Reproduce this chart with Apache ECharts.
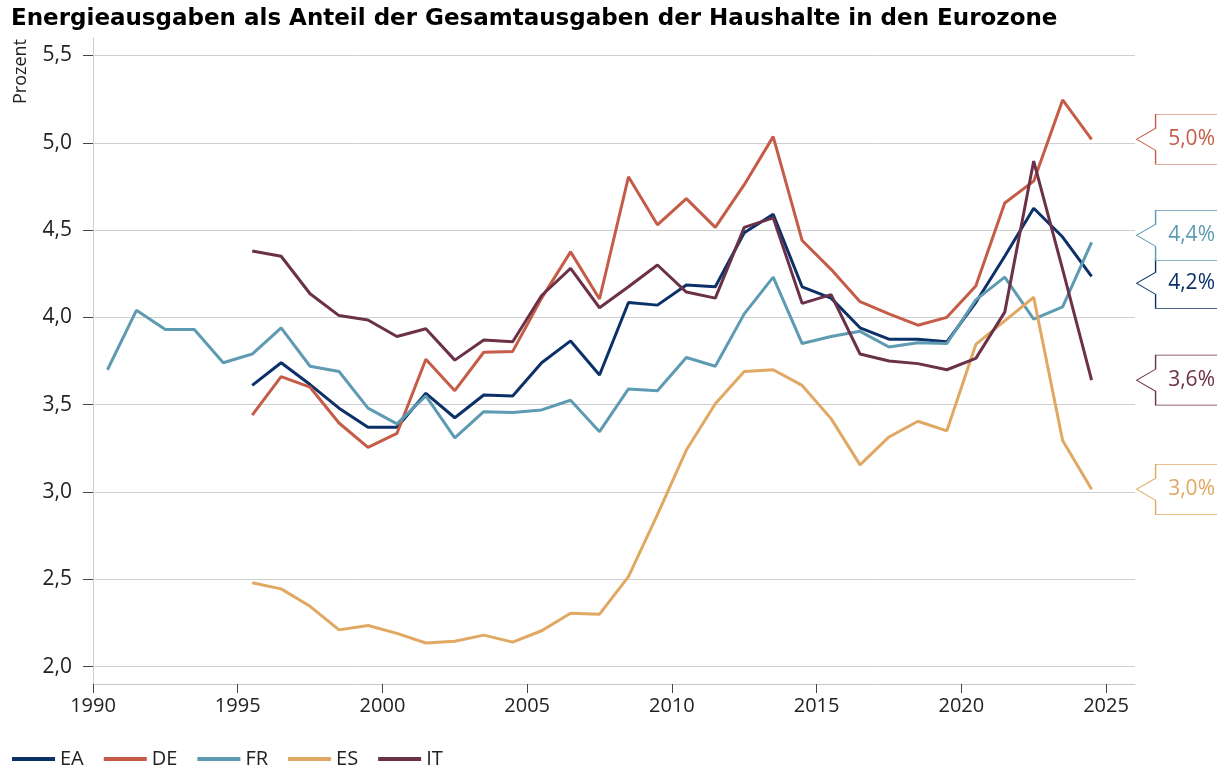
<!DOCTYPE html>
<html>
<head>
<meta charset="utf-8">
<script src="https://cdn.jsdelivr.net/npm/echarts@6/dist/echarts.min.js"></script>
<style>
  html, body { margin: 0; padding: 0; background: #fff; }
  #chart { width: 1217px; height: 771px; }
</style>
</head>
<body>
<div id="chart"></div>
<script>
// Jahreswerte 1990-2024 (null = keine Daten), in Prozent
const years = [1990, 1991, 1992, 1993, 1994, 1995, 1996, 1997, 1998, 1999,
  2000, 2001, 2002, 2003, 2004, 2005, 2006, 2007, 2008, 2009,
  2010, 2011, 2012, 2013, 2014, 2015, 2016, 2017, 2018, 2019,
  2020, 2021, 2022, 2023, 2024];

const EA = [null, null, null, null, null,
  3.61, 3.74, 3.615, 3.48, 3.37, 3.37, 3.565, 3.425, 3.555, 3.55,
  3.74, 3.865, 3.67, 4.085, 4.07, 4.185, 4.175, 4.485, 4.59, 4.175,
  4.11, 3.94, 3.875, 3.875, 3.86, 4.085, 4.35, 4.625, 4.46, 4.235];
const DE = [null, null, null, null, null,
  3.44, 3.66, 3.60, 3.395, 3.255, 3.335, 3.76, 3.58, 3.80, 3.805,
  4.11, 4.375, 4.105, 4.805, 4.53, 4.68, 4.515, 4.76, 5.035, 4.44,
  4.275, 4.09, 4.02, 3.955, 4.00, 4.18, 4.655, 4.78, 5.245, 5.02];
const FR = [3.70, 4.04, 3.93, 3.93, 3.74,
  3.79, 3.94, 3.72, 3.69, 3.48, 3.39, 3.55, 3.31, 3.46, 3.455,
  3.47, 3.525, 3.345, 3.59, 3.58, 3.77, 3.72, 4.02, 4.23, 3.85,
  3.89, 3.92, 3.83, 3.855, 3.85, 4.10, 4.23, 3.99, 4.06, 4.43];
const ES = [null, null, null, null, null,
  2.48, 2.445, 2.345, 2.21, 2.235, 2.19, 2.135, 2.145, 2.18, 2.14,
  2.205, 2.305, 2.30, 2.515, 2.87, 3.24, 3.505, 3.69, 3.70, 3.61,
  3.42, 3.155, 3.315, 3.405, 3.35, 3.845, 3.98, 4.115, 3.295, 3.015];
const IT = [null, null, null, null, null,
  4.38, 4.35, 4.135, 4.01, 3.985, 3.89, 3.935, 3.755, 3.87, 3.86,
  4.125, 4.28, 4.055, 4.175, 4.30, 4.145, 4.11, 4.515, 4.57, 4.08,
  4.13, 3.79, 3.75, 3.735, 3.70, 3.765, 4.03, 4.895, 4.275, 3.64];

const yTicks = [2.0, 2.5, 3.0, 3.5, 4.0, 4.5, 5.0, 5.5];
const xTicks = [1990, 1995, 2000, 2005, 2010, 2015, 2020, 2025];

const FONT = "'Open Sans', 'Noto Sans', sans-serif";

// callout box with notch pointing left
const calloutPath = "path://M0,25 L19,14 L19,0 L100,0 L100,50 L19,50 L19,36 Z";

function fmt(v) {
  return v.toFixed(1).replace(".", ",");
}

function makeSeries(name, values, color, labelShift) {
  var data = [];
  for (var i = 0; i < years.length; i++) {
    data.push([years[i] + 0.5, values[i]]); // Jahreswerte zur Jahresmitte
  }
  var last = values[values.length - 1];
  return {
    name: name,
    type: "line",
    data: data,
    showSymbol: false,
    symbol: "none",
    lineStyle: { width: 3, color: color },
    itemStyle: { color: color },
    emphasis: { disabled: true },
    markPoint: {
      symbol: calloutPath,
      symbolSize: [100, 50],
      symbolKeepAspect: false,
      symbolOffset: [95, labelShift],
      silent: true,
      itemStyle: { color: "#fff", borderColor: color, borderWidth: 1 },
      label: {
        show: true,
        position: "inside",
        offset: [5, 0],
        color: color,
        fontFamily: FONT,
        fontSize: 21,
        formatter: function (p) { return fmt(p.value) + "%"; }
      },
      data: [{ coord: [years[years.length - 1] + 0.5, last], value: last }]
    }
  };
}

var chart = echarts.init(document.getElementById("chart"), null, { renderer: "canvas" });

var option = {
  animation: false,
  backgroundColor: "#fff",
  title: {
    text: "Energieausgaben als Anteil der Gesamtausgaben der Haushalte in den Eurozone",
    left: 6,
    top: 3,
    textStyle: { fontFamily: "'DejaVu Sans', sans-serif", fontWeight: "bold", fontSize: 23, color: "#000" }
  },
  graphic: [{
    type: "text",
    left: 12,
    top: 39,
    rotation: Math.PI / 2,
    style: { text: "Prozent", fontFamily: FONT, fontSize: 18, fill: "#222" }
  }],
  legend: {
    left: 7,
    bottom: -3,
    icon: "rect",
    itemWidth: 43,
    itemHeight: 4,
    itemGap: 20,
    textStyle: { fontFamily: FONT, fontSize: 20, color: "#222" },
    data: ["EA", "DE", "FR", "ES", "IT"]
  },
  grid: { left: 93, right: 82, top: 38, height: 646 },
  xAxis: {
    type: "value",
    min: 1990,
    max: 2026,
    axisLine: { show: true, lineStyle: { color: "#c8c8c8", width: 1 } },
    axisTick: { show: true, length: 9, customValues: xTicks, lineStyle: { color: "#444" } },
    axisLabel: {
      customValues: xTicks,
      margin: 12,
      fontFamily: FONT,
      fontSize: 20,
      color: "#222",
      formatter: function (v) { return String(v); }
    },
    splitLine: { show: false }
  },
  yAxis: {
    type: "value",
    min: 1.9,
    max: 5.6,
    axisLine: { show: true, lineStyle: { color: "#cccccc", width: 1 } },
    axisTick: { show: true, length: 10, customValues: yTicks, lineStyle: { color: "#444" } },
    axisLabel: {
      customValues: yTicks,
      margin: 21,
      fontFamily: FONT,
      fontSize: 21,
      color: "#222",
      formatter: function (v) { return fmt(v); }
    },
    splitLine: { show: true, lineStyle: { color: "#cfcfcf", width: 1 } }
  },
  series: [
    makeSeries("EA", EA, "#0c3168", 7),
    makeSeries("DE", DE, "#c55c48", 0),
    makeSeries("FR", FR, "#5e9bb2", -7),
    makeSeries("ES", ES, "#e0a862", 0),
    makeSeries("IT", IT, "#6b3149", 0)
  ]
};

chart.setOption(option);
</script>
</body>
</html>
